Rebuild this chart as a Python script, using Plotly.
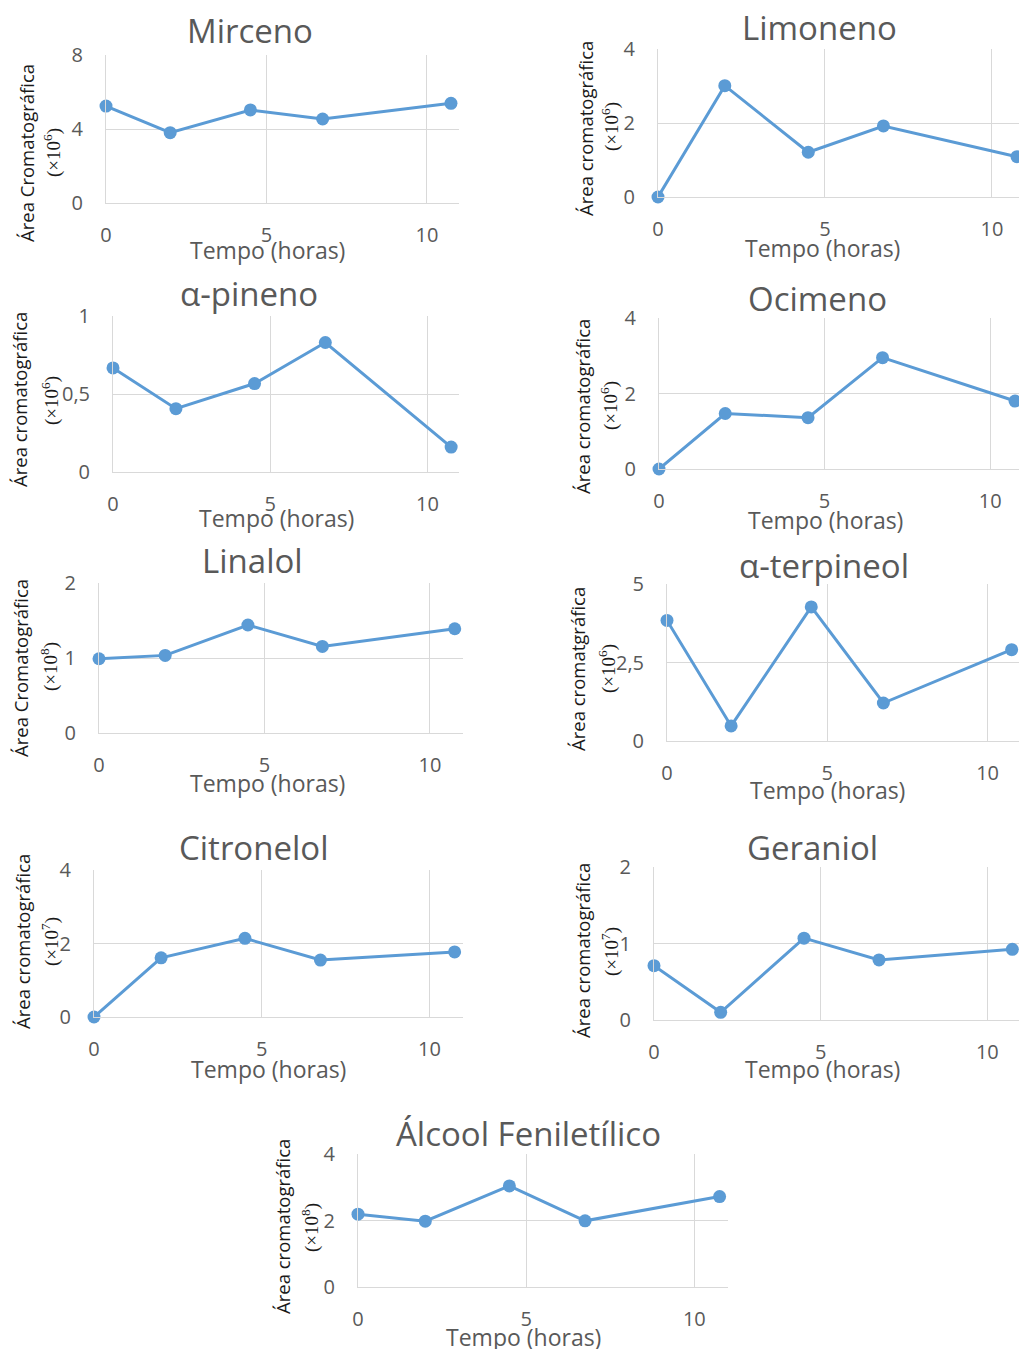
import plotly.graph_objects as go

W, H = 1019, 1349

# Tempo de amostragem (horas)
tempo = [0, 2, 4.5, 6.75, 10.75]

# Áreas cromatográficas de cada composto
mirceno = [5.24, 3.80, 5.03, 4.54, 5.39]
limoneno = [0.0, 3.01, 1.21, 1.92, 1.09]
alfa_pineno = [0.667, 0.406, 0.567, 0.83, 0.16]
ocimeno = [0.0, 1.47, 1.36, 2.95, 1.80]
linalol = [0.99, 1.035, 1.44, 1.155, 1.39]
alfa_terpineol = [3.84, 0.48, 4.27, 1.21, 2.91]
citronelol = [0.0, 1.61, 2.14, 1.55, 1.77]
geraniol = [0.71, 0.10, 1.07, 0.785, 0.924]
alcool_feniletilico = [2.19, 1.98, 3.04, 1.99, 2.72]

series = [mirceno, limoneno, alfa_pineno, ocimeno, linalol,
          alfa_terpineol, citronelol, geraniol, alcool_feniletilico]

titulos = ["Mirceno", "Limoneno", "α-pineno", "Ocimeno", "Linalol",
           "α-terpineol", "Citronelol", "Geraniol", "Álcool Feniletílico"]

rotulos_y = ["Área Cromatográfica", "Área cromatográfica", "Área cromatográfica",
             "Área cromatográfica", "Área Cromatográfica", "Área cromatgráfica",
             "Área cromatográfica", "Área cromatográfica", "Área cromatográfica"]

expoentes = [6, 6, 6, 6, 8, 6, 7, 7, 8]

ticks_y = [[0, 4, 8], [0, 2, 4], [0, 0.5, 1], [0, 2, 4], [0, 1, 2],
           [0, 2.5, 5], [0, 2, 4], [0, 1, 2], [0, 2, 4]]
textos_ticks_y = [["0", "4", "8"], ["0", "2", "4"], ["0", "0,5", "1"],
                  ["0", "2", "4"], ["0", "1", "2"], ["0", "2,5", "5"],
                  ["0", "2", "4"], ["0", "1", "2"], ["0", "2", "4"]]

ticks_x = [0, 5, 10]
rotulo_x = "Tempo (horas)"

# Caixa de cada painel em pixels: esquerda, direita, topo, base, máximo do eixo x
caixas = [
    (106, 459, 55, 203, 11.0),
    (658, 1019, 49, 197, 10.81),
    (113, 459, 316, 472, 11.0),
    (659, 1019, 318, 469, 10.87),
    (99, 463, 583, 733, 11.0),
    (667, 1019, 584, 741, 10.98),
    (94, 463, 870, 1017, 11.0),
    (654, 1019, 867, 1020, 10.95),
    (358, 728, 1154, 1287, 11.0),
]

# Posições (px) dos textos: título, título do eixo x, duas linhas do título do eixo y
pos_titulo = [(250, 30), (819, 27), (249, 294), (817, 298), (252, 560),
              (824, 565), (254, 847), (812, 847), (528, 1133)]
pos_rotulo_x = [(267, 250), (822, 248), (276, 518), (825, 520), (267, 783),
                (827, 790), (268, 1069), (822, 1069), (523, 1337)]
pos_y1 = [(26, 153), (585, 129), (19, 400), (582, 407), (20, 668),
          (577, 669), (22, 942), (582, 951), (282, 1227)]
pos_y2 = [(52, 153), (610, 127), (51, 401), (610, 406), (49, 667),
          (607, 669), (50, 942), (610, 952), (310, 1228)]

AZUL = "#5B9BD5"
CINZA = "#595959"
GRADE = "#D9D9D9"
FONTE = "Open Sans"


def px(x, y):
    return x / W, 1 - y / H


fig = go.Figure()
layout = dict(
    width=W, height=H,
    margin=dict(l=0, r=0, t=0, b=0, pad=0, autoexpand=False),
    paper_bgcolor="white", plot_bgcolor="white",
    showlegend=False,
    font=dict(family=FONTE, color=CINZA),
)
anotacoes = []

for i, (valores, caixa) in enumerate(zip(series, caixas)):
    n = i + 1
    sx = "" if n == 1 else str(n)
    esq, dir_, topo, base, xmax = caixa
    fig.add_trace(go.Scatter(
        x=tempo, y=valores, mode="lines+markers",
        line=dict(color=AZUL, width=3),
        marker=dict(color=AZUL, size=13),
        cliponaxis=False,
        xaxis="x" + sx, yaxis="y" + sx,
    ))
    layout["xaxis" + sx] = dict(
        domain=[esq / W, min(dir_ / W, 1.0)],
        anchor="y" + sx,
        range=[0, xmax],
        tickvals=ticks_x, ticktext=[str(t) for t in ticks_x],
        showgrid=True, gridcolor=GRADE, gridwidth=1,
        showline=True, linecolor=GRADE, linewidth=1,
        zeroline=False, ticks="", automargin=False,
        tickfont=dict(family=FONTE, size=20, color=CINZA),
        ticklabelstandoff=14,
    )
    layout["yaxis" + sx] = dict(
        domain=[1 - base / H, 1 - topo / H],
        anchor="x" + sx,
        range=[0, ticks_y[i][-1]],
        tickvals=ticks_y[i], ticktext=textos_ticks_y[i],
        showgrid=True, gridcolor=GRADE, gridwidth=1,
        showline=True, linecolor=GRADE, linewidth=1,
        zeroline=False, ticks="", automargin=False,
        tickfont=dict(family=FONTE, size=20, color=CINZA),
        ticklabelstandoff=18,
    )

    tx, ty = px(*pos_titulo[i])
    anotacoes.append(dict(
        text=titulos[i], x=tx, y=ty, xref="paper", yref="paper",
        xanchor="center", yanchor="middle", showarrow=False,
        font=dict(family=FONTE, size=33, color=CINZA),
    ))
    rx, ry = px(*pos_rotulo_x[i])
    anotacoes.append(dict(
        text=rotulo_x, x=rx, y=ry, xref="paper", yref="paper",
        xanchor="center", yanchor="middle", showarrow=False,
        font=dict(family=FONTE, size=23, color=CINZA),
    ))
    y1x, y1y = px(*pos_y1[i])
    anotacoes.append(dict(
        text=rotulos_y[i], x=y1x, y=y1y, xref="paper", yref="paper",
        xanchor="center", yanchor="middle", showarrow=False, textangle=-90,
        font=dict(family=FONTE, size=18.5, color="#1a1a1a"),
    ))
    y2x, y2y = px(*pos_y2[i])
    anotacoes.append(dict(
        text="(×10<sup>%d</sup>)" % expoentes[i], x=y2x, y=y2y,
        xref="paper", yref="paper",
        xanchor="center", yanchor="middle", showarrow=False, textangle=-90,
        font=dict(family="Liberation Serif", size=19, color="#1a1a1a"),
    ))

layout["annotations"] = anotacoes
fig.update_layout(**layout)
fig.write_html("out.html")
